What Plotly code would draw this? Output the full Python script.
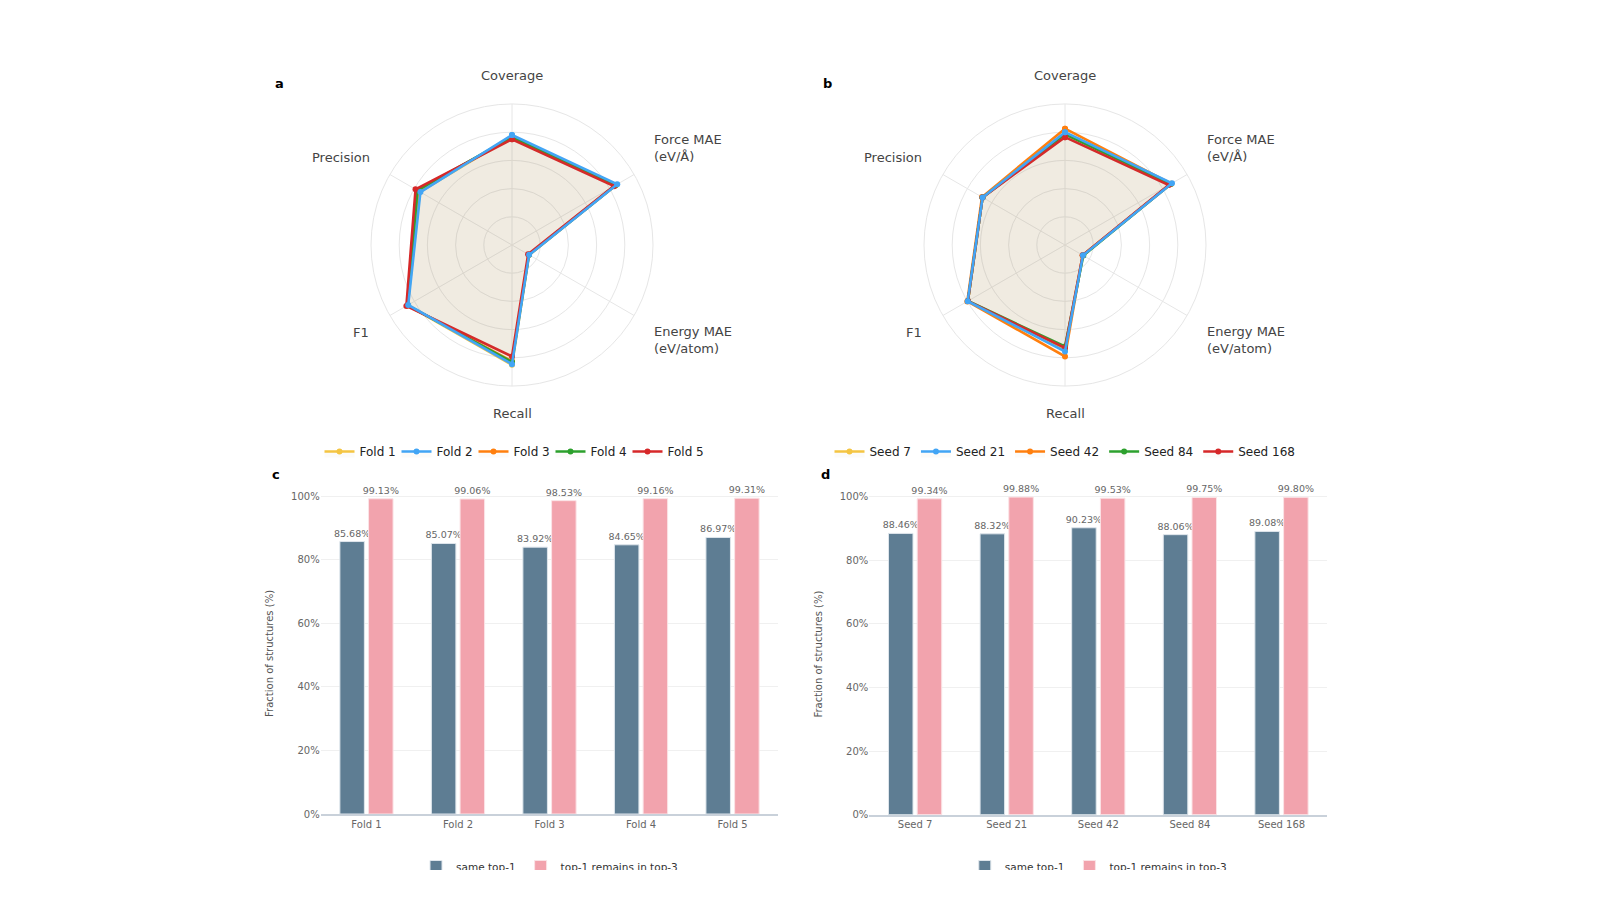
import plotly.graph_objects as go

# ---------------- data ----------------
axes_labels = ["Coverage", "Force MAE<br>(eV/Å)", "Energy MAE<br>(eV/atom)", "Recall", "F1", "Precision"]

fold_names = ["Fold 1", "Fold 2", "Fold 3", "Fold 4", "Fold 5"]
fold_1 = [0.770, 0.855, 0.140, 0.850, 0.855, 0.755]
fold_2 = [0.780, 0.862, 0.140, 0.845, 0.850, 0.750]
fold_3 = [0.765, 0.845, 0.138, 0.825, 0.855, 0.770]
fold_4 = [0.765, 0.845, 0.138, 0.830, 0.855, 0.775]
fold_5 = [0.750, 0.835, 0.132, 0.790, 0.865, 0.790]

seed_names = ["Seed 7", "Seed 21", "Seed 42", "Seed 84", "Seed 168"]
seed_7 = [0.790, 0.870, 0.145, 0.745, 0.795, 0.675]
seed_21 = [0.800, 0.876, 0.147, 0.755, 0.797, 0.675]
seed_42 = [0.825, 0.870, 0.145, 0.790, 0.800, 0.680]
seed_84 = [0.785, 0.865, 0.150, 0.720, 0.795, 0.675]
seed_168 = [0.765, 0.850, 0.145, 0.730, 0.795, 0.675]

same_top1_folds = [85.68, 85.07, 83.92, 84.65, 86.97]
top3_folds = [99.13, 99.06, 98.53, 99.16, 99.31]
same_top1_seeds = [88.46, 88.32, 90.23, 88.06, 89.08]
top3_seeds = [99.34, 99.88, 99.53, 99.75, 99.80]

y_ticks = [0, 20, 40, 60, 80, 100]
y_ticktext = ["0%", "20%", "40%", "60%", "80%", "100%"]

# ---------------- style ----------------
W, H = 1600, 870
FONT = "DejaVu Sans"
line_colors = ["#f4c542", "#42a5f5", "#ff7f0e", "#2ca02c", "#d62728"]
fill_color = "rgba(185,150,105,0.04)"
bar_dark = "#5e7d93"
bar_pink = "#f2a3ad"


def fx(px):
    return px / W


def fy(py):
    return 1 - py / H


fig = go.Figure()

draw_order = [0, 2, 3, 4, 1]


def add_radar(series, names, subplot, legend):
    for i in draw_order:
        vals = series[i] + [series[i][0]]
        th = axes_labels + [axes_labels[0]]
        fig.add_trace(go.Scatterpolar(
            r=vals, theta=th, name=names[i], subplot=subplot, legend=legend,
            mode="lines+markers", fill="toself", fillcolor=fill_color,
            line=dict(color=line_colors[i], width=2.6),
            marker=dict(color=line_colors[i], size=6),
            legendrank=i + 1,
        ))


add_radar([fold_1, fold_2, fold_3, fold_4, fold_5], fold_names, "polar", "legend")
add_radar([seed_7, seed_21, seed_42, seed_84, seed_168], seed_names, "polar2", "legend2")


def add_bars(cats, a, b, xa, ya, legend):
    for vals, nm, col, lc in [(a, "same top-1", bar_dark, "#dfe6ec"),
                              (b, "top-1 remains in top-3", bar_pink, "#fbe3e6")]:
        fig.add_trace(go.Bar(
            x=cats, y=vals, name=nm, xaxis=xa, yaxis=ya, legend=legend,
            marker=dict(color=col, line=dict(color=lc, width=1)),
            text=[f"{v:.2f}%" for v in vals], textposition="outside",
            constraintext="none",
            textfont=dict(size=9.5, color="#666666", family=FONT),
            cliponaxis=False,
        ))


add_bars(fold_names, same_top1_folds, top3_folds, "x", "y", "legend3")
add_bars(seed_names, same_top1_seeds, top3_seeds, "x2", "y2", "legend4")

grid = "#e6e6e6"
R = 141
CY = 245


def polar_layout(xc):
    return dict(
        domain=dict(x=[fx(xc - R), fx(xc + R)], y=[fy(CY + R), fy(CY - R)]),
        bgcolor="white",
        radialaxis=dict(range=[0, 1], dtick=0.2, showticklabels=False, ticks="",
                        showline=False, gridcolor=grid, gridwidth=1),
        angularaxis=dict(direction="clockwise", rotation=90, gridcolor=grid,
                         linecolor=grid, linewidth=1, ticks="", showticklabels=False),
    )


def yaxis_layout(y0, y1, anchor):
    return dict(domain=[y0, y1], range=[0, 101], tickvals=y_ticks, ticktext=y_ticktext,
                showgrid=True, gridcolor="#f0f0f0", zeroline=False,
                showline=False, anchor=anchor, ticks="",
                tickfont=dict(size=10, color="#666666", family=FONT),
                title=dict(text="Fraction of structures (%)", standoff=15,
                           font=dict(size=10, color="#555555", family=FONT)))


def xaxis_layout(x0, x1, anchor):
    return dict(domain=[x0, x1], anchor=anchor, showline=True, linecolor="#c9d1da",
                linewidth=1.5, ticks="", showgrid=False,
                tickfont=dict(size=10, color="#666666", family=FONT))


legend_common = dict(orientation="h", bgcolor="rgba(0,0,0,0)")

# angular labels as annotations around each radar
label_font = dict(size=13, color="#444444", family=FONT)
annotations = []
for xc in (512, 1065):
    specs = [
        (axes_labels[0], xc, 75, "center", "center"),
        (axes_labels[1], xc + 139.5, 148, "left", "left"),
        (axes_labels[2], xc + 139.5, 340, "left", "left"),
        (axes_labels[3], xc, 413, "center", "center"),
        (axes_labels[4], xc - 141, 332, "right", "right"),
        (axes_labels[5], xc - 140.5, 157, "right", "right"),
    ]
    for txt, px, py, xa, al in specs:
        annotations.append(dict(text=txt, x=fx(px), y=fy(py), xref="paper", yref="paper",
                                xanchor=xa, yanchor="middle", align=al, showarrow=False,
                                font=label_font))

for letter, px, py in [("a", 279, 84), ("b", 827.5, 84), ("c", 275.5, 474), ("d", 825.5, 474)]:
    annotations.append(dict(text=f"<b>{letter}</b>", x=fx(px), y=fy(py), xref="paper", yref="paper",
                            xanchor="center", yanchor="middle", showarrow=False,
                            font=dict(size=13, color="black", family=FONT)))

fig.update_layout(
    width=W, height=H,
    margin=dict(l=0, r=0, t=0, b=0, autoexpand=False),
    paper_bgcolor="white", plot_bgcolor="white",
    font=dict(family=FONT),
    barmode="group", bargap=0.373, bargroupgap=0.146,
    polar=polar_layout(512),
    polar2=polar_layout(1065),
    xaxis=xaxis_layout(fx(320.7), fx(778.3), "y"),
    yaxis=yaxis_layout(fy(814), fy(814 - 3.18 * 101), "x"),
    xaxis2=xaxis_layout(fx(869.3), fx(1327.3), "y2"),
    yaxis2=yaxis_layout(fy(814.7), fy(814.7 - 3.18 * 101), "x2"),
    legend=dict(x=fx(512), y=fy(451.5), xanchor="center", yanchor="middle",
                entrywidth=32, entrywidthmode="pixels",
                font=dict(size=12, color="#222222", family=FONT), **legend_common),
    legend2=dict(x=fx(1065), y=fy(451.5), xanchor="center", yanchor="middle",
                 font=dict(size=12, color="#222222", family=FONT), **legend_common),
    legend3=dict(x=fx(549.5), y=fy(852), xanchor="center", yanchor="top",
                 font=dict(size=10.5, color="#333333", family=FONT), **legend_common),
    legend4=dict(x=fx(1098.3), y=fy(852), xanchor="center", yanchor="top",
                 font=dict(size=10.5, color="#333333", family=FONT), **legend_common),
    annotations=annotations,
)

fig.write_html("out.html")
